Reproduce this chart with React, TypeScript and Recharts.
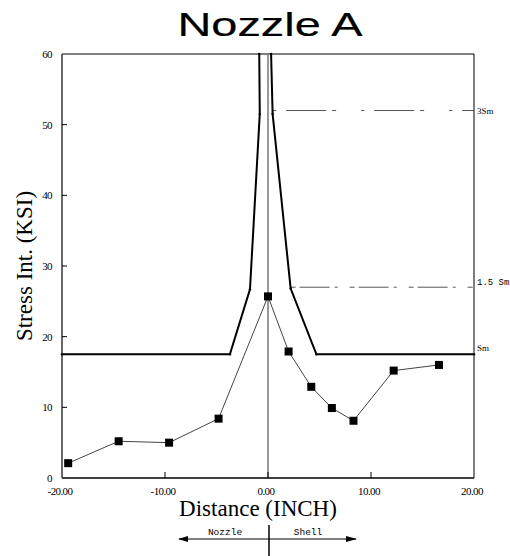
import {
  ComposedChart,
  Line,
  XAxis,
  YAxis,
  ReferenceLine,
  ReferenceArea
} from 'recharts';

// measured stress intensity along the path
const DIST = [-19.4, -14.5, -9.6, -4.8, 0, 2.0, 4.2, 6.2, 8.3, 12.2, 16.6];
const STRESS = [2.1, 5.2, 5.0, 8.4, 25.7, 17.9, 12.9, 9.9, 8.1, 15.2, 16.0];

// allowable envelope, nozzle side and shell side
const ALLOW_L_X = [-20, -3.7, -1.75, -0.8, -0.85];
const ALLOW_L_Y = [17.5, 17.5, 26.7, 51.5, 60];
const ALLOW_R_X = [0.3, 0.45, 2.2, 4.7, 20];
const ALLOW_R_Y = [60, 51.5, 26.8, 17.5, 17.5];

const SM = 17.5;
const SM15 = 27;
const SM3 = 52;

const X_TICKS = [-20, -10, 0, 10, 20];
const Y_TICKS = [0, 10, 20, 30, 40, 50, 60];

const stressData = DIST.map((x, i) => ({ x, y: STRESS[i] }));
const allowLeft = ALLOW_L_X.map((x, i) => ({ x, y: ALLOW_L_Y[i] }));
const allowRight = ALLOW_R_X.map((x, i) => ({ x, y: ALLOW_R_Y[i] }));

const SERIF = '"Liberation Serif", "DejaVu Serif", serif';
const MONO = '"Liberation Mono", "DejaVu Sans Mono", monospace';

function SquareDot(props: any) {
  const { cx, cy } = props;
  if (cx == null || cy == null) return null;
  return <rect x={cx - 4} y={cy - 4} width={8} height={8} fill="#000" />;
}

function XTick(props: any) {
  const { x, y, payload } = props;
  const v = payload.value;
  const inner = v !== -20 && v !== 20;
  return (
    <g>
      {inner && <line x1={x} x2={x} y1={y} y2={y - 6} stroke="#000" strokeWidth={1} />}
      <text x={x - 2} y={y + 17} textAnchor="middle" fontFamily={SERIF} fontSize={11} letterSpacing={-0.6} fill="#000">
        {v.toFixed(2)}
      </text>
    </g>
  );
}

function YTick(props: any) {
  const { x, y, payload } = props;
  const v = payload.value;
  return (
    <g>
      {v !== 0 && v !== 60 && <line x1={x} x2={x + 5} y1={y} y2={y} stroke="#000" strokeWidth={1} />}
      <text x={x - 10} y={y + 4} textAnchor="end" fontFamily={SERIF} fontSize={11} letterSpacing={-0.6} fill="#000">
        {v}
      </text>
    </g>
  );
}

function sideLabel(text: string, dy: number, font: string) {
  return (props: any) => {
    const vb = props.viewBox || {};
    return (
      <text x={(vb.x || 0) + (vb.width || 0) + 3} y={(vb.y || 0) + dy} fontFamily={font} fontSize={9} fill="#000">
        {text}
      </text>
    );
  };
}

export default function App() {
  return (
    <div style={{ position: 'absolute', left: 0, top: 0, width: 510, height: 556, background: '#fff' }}>
      <ComposedChart
        width={510}
        height={556}
        margin={{ top: 54, right: 36, bottom: 48, left: 0 }}
      >
        <XAxis
          type="number"
          dataKey="x"
          domain={[-20, 20]}
          ticks={X_TICKS}
          tickSize={0}
          tickMargin={0}
          tick={<XTick />}
          axisLine={{ stroke: '#000' }}
          height={30}
          allowDuplicatedCategory={false}
        />
        <YAxis
          type="number"
          domain={[0, 60]}
          ticks={Y_TICKS}
          tickSize={0}
          tickMargin={0}
          tick={<YTick />}
          axisLine={{ stroke: '#555' }}
          width={62}
        />
        <ReferenceArea x1={-20} x2={20} y1={0} y2={60} fill="none" stroke="#000" strokeWidth={1} />
        <ReferenceLine x={0} stroke="#777" strokeWidth={1.5} />
        <ReferenceLine
          segment={[{ x: 0.5, y: SM3 }, { x: 20, y: SM3 }]}
          stroke="#555"
          strokeDasharray="3 10 40 6 4 25"
          label={sideLabel('3Sm', 3, SERIF)}
        />
        <ReferenceLine
          segment={[{ x: 2.2, y: SM15 }, { x: 20, y: SM15 }]}
          stroke="#555"
          strokeDasharray="5 4 30 5 3 12"
          label={sideLabel('1.5 Sm', -2, MONO)}
        />
        <ReferenceLine
          segment={[{ x: 4.7, y: SM }, { x: 20, y: SM }]}
          stroke="none"
          label={sideLabel('Sm', -3, SERIF)}
        />
        <Line
          data={allowLeft}
          dataKey="y"
          type="linear"
          stroke="#000"
          strokeWidth={2}
          dot={{ r: 1.2, fill: '#000', stroke: 'none' }}
          isAnimationActive={false}
        />
        <Line
          data={allowRight}
          dataKey="y"
          type="linear"
          stroke="#000"
          strokeWidth={2}
          dot={{ r: 1.2, fill: '#000', stroke: 'none' }}
          isAnimationActive={false}
        />
        <Line
          data={stressData}
          dataKey="y"
          type="linear"
          stroke="#444"
          strokeWidth={1}
          dot={<SquareDot />}
          isAnimationActive={false}
        />
      </ComposedChart>

      {/* title */}
      <div
        style={{
          position: 'absolute',
          left: 270,
          top: 4,
          transform: 'translateX(-50%) scaleX(1.38)',
          fontFamily: '"Liberation Sans", Arial, sans-serif',
          fontSize: 34,
          lineHeight: '40px',
          whiteSpace: 'nowrap',
          color: '#000',
          WebkitTextStroke: '0.2px #000'
        }}
      >
        Nozzle A
      </div>

      {/* y label */}
      <div
        style={{
          position: 'absolute',
          left: 25,
          top: 266,
          transform: 'translate(-50%, -50%) rotate(-90deg)',
          fontFamily: SERIF,
          fontSize: 23,
          whiteSpace: 'nowrap',
          color: '#000'
        }}
      >
        Stress Int. (KSI)
      </div>

      {/* x label */}
      <div
        style={{
          position: 'absolute',
          left: 258,
          top: 495,
          transform: 'translateX(-50%)',
          fontFamily: SERIF,
          fontSize: 23,
          lineHeight: '28px',
          whiteSpace: 'nowrap',
          color: '#000'
        }}
      >
        Distance (INCH)
      </div>

      {/* nozzle / shell direction marker */}
      <svg style={{ position: 'absolute', left: 0, top: 0 }} width={510} height={556}>
        <line x1={179} x2={356} y1={539} y2={539} stroke="#000" strokeWidth={1.2} />
        <polygon points="178,539 188,536 188,542" fill="#000" />
        <polygon points="357,539 346,536 346,542" fill="#000" />
        <line x1={269} x2={269} y1={525} y2={556} stroke="#000" strokeWidth={1.5} />
        <text x={225} y={535} textAnchor="middle" fontFamily={MONO} fontSize={9.5} fill="#000">Nozzle</text>
        <text x={308} y={535} textAnchor="middle" fontFamily={MONO} fontSize={9.5} fill="#000">Shell</text>
      </svg>
    </div>
  );
}
